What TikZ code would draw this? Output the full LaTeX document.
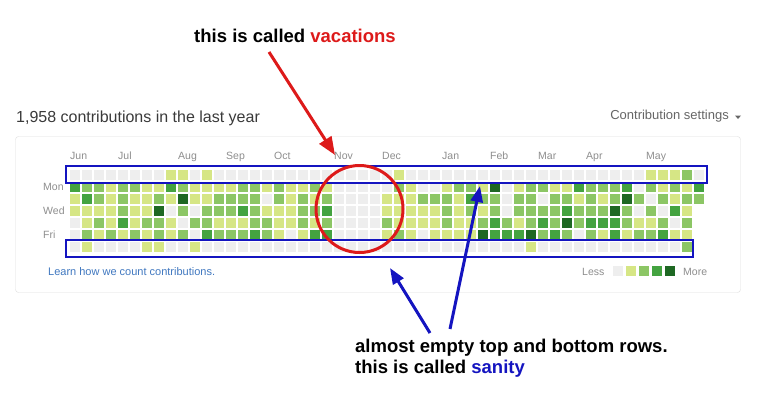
\documentclass[tikz,border=0pt]{standalone}
\usepackage{fontspec}
\setmainfont{Liberation Sans}
\usepackage{xcolor}
\usetikzlibrary{arrows.meta}

\definecolor{cell0}{HTML}{EEEEEE}
\definecolor{cell1}{HTML}{D6E685}
\definecolor{cell2}{HTML}{8CC665}
\definecolor{cell3}{HTML}{44A340}
\definecolor{cell4}{HTML}{1E6823}
\definecolor{textdark}{HTML}{3A3A3A}
\definecolor{labelgray}{HTML}{8E8E8E}
\definecolor{settingsgray}{HTML}{666666}
\definecolor{learnblue}{HTML}{4078C0}
\definecolor{framegray}{HTML}{DDDDDD}
\definecolor{annored}{HTML}{DD1A1A}
\definecolor{sanityblue}{HTML}{1414C0}

\begin{document}
\begin{tikzpicture}[
            x=1pt, y=-1pt,
            every node/.style={inner sep=0pt},
            smalllabel/.style={anchor=base west, font=\fontsize{10.5}{12}\selectfont, text=labelgray},
            annot/.style={font=\fontsize{18.5}{21.5}\selectfont\bfseries},
            redarrow/.style={draw=annored, line width=3pt, -{Triangle[length=18pt,width=14pt]}},
            bluearrow/.style={draw=sanityblue, line width=3pt, -{Triangle[length=16pt,width=12pt]}},
            markbox/.style={draw=sanityblue, line width=2pt}
        ]
        \fill[white] (0,0) rectangle (759,410);
        \useasboundingbox (0,0) rectangle (759,410);
        % Header
        \node[anchor=base west, font=\fontsize{16}{19}\selectfont, text=textdark] (title) at (16,122.5) {1,958 contributions in the last year};
        \node[anchor=base east, font=\fontsize{13}{15}\selectfont, text=settingsgray] (settings) at (729,119) {Contribution settings};
        \fill[settingsgray] (735,115.5) -- (741,115.5) -- (738,119) -- cycle;
        % Calendar frame
        \draw[framegray, rounded corners=3pt] (15.5,136.5) rectangle (740.5,292.5);
        % Months and days
        \foreach \m/\c in {Jun/0, Jul/4, Aug/9, Sep/13, Oct/17, Nov/22, Dec/26, Jan/31, Feb/35, Mar/39, Apr/43, May/48}
            \node[smalllabel] (month-\m) at ({70+12*\c},159.5) {\m};
        \foreach \d/\r in {Mon/1, Wed/3, Fri/5}
            \node[smalllabel] (day-\d) at (43,{178+12*\r}) {\d};
        % Contribution cells, one list per weekday
        \foreach \row [count=\j from 0] in {
            {0,0,0,0,0,0,0,0,1,1,0,1,0,0,0,0,0,0,0,0,0,0,0,0,0,0,0,1,0,0,0,0,0,0,0,0,0,0,0,0,0,0,0,0,0,0,0,0,1,1,1,2,0},
            {3,2,2,1,2,2,1,1,3,2,1,1,1,1,2,2,1,2,1,1,2,1,0,0,0,0,0,2,1,0,0,1,2,2,1,4,0,1,2,2,1,1,3,2,2,2,3,0,2,1,2,1,3},
            {1,3,2,1,2,1,1,2,1,4,1,1,2,2,2,2,0,2,1,2,1,2,0,0,0,0,1,1,1,2,2,2,1,3,2,2,0,2,2,0,2,2,1,2,1,2,4,2,0,2,1,2,2},
            {1,1,1,1,2,1,1,4,0,2,0,2,2,2,3,2,1,1,1,2,2,3,0,0,0,0,1,1,1,1,1,2,1,2,1,2,0,2,2,2,2,3,2,2,2,4,2,0,2,0,3,1},
            {0,1,2,1,3,1,2,2,1,0,2,2,1,1,1,2,2,1,1,2,1,2,0,0,0,0,2,1,1,1,1,2,1,1,2,3,2,1,2,3,2,4,2,3,3,3,2,1,1,2,0,2},
            {0,2,1,2,1,2,1,2,1,2,0,3,2,2,2,3,2,1,0,1,3,3,0,0,0,0,1,2,1,0,1,1,1,1,4,3,3,3,4,2,3,2,0,2,1,3,1,2,2,3,1,1},
            {0,1,0,0,0,0,1,1,0,0,1,0,0,0,0,0,0,0,0,0,0,0,0,0,0,0,0,0,0,0,0,0,0,0,0,0,0,0,1,0,0,0,0,0,0,0,0,0,0,0,0,2}}
            \foreach \v [count=\i from 0] in \row
                \fill[fill=cell\v] ({70+12*\i},{170+12*\j}) rectangle +(10,10);
        % Footer
        \node[anchor=base west, font=\fontsize{11}{13}\selectfont, text=learnblue] (learn) at (48,275) {Learn how we count contributions.};
        \node[smalllabel] (less) at (582,275) {Less};
        \foreach \k in {0,...,4}
            \fill[fill=cell\k] ({613+13*\k},266) rectangle +(10,10);
        \node[smalllabel] (more) at (683,275) {More};
        % Sanity boxes
        \draw[markbox] (66,166) rectangle (707,183);
        \draw[markbox] (66,240) rectangle (693,257);
        % Vacations
        \coordinate (vaccircle) at (359.5,209);
        \draw[annored, line width=3pt] (vaccircle) circle[radius=43.5pt];
        \node[annot, anchor=base] (vactext) at (295,42) {this is called \textcolor{annored}{vacations}};
        \coordinate (vacfrom) at (269,52);
        \coordinate (vacto) at (335,155);
        \draw[redarrow] (vacfrom) -- (vacto);
        % Sanity
        \node[annot, anchor=north west, align=left] (sanitytext) at (355,338.5) {almost empty top and bottom rows.\\this is called \textcolor{sanityblue}{sanity}};
        \coordinate (lowfrom) at (430,333);
        \coordinate (lowto) at (390,268);
        \coordinate (topfrom) at (450,329);
        \coordinate (topto) at (480,186);
        \draw[bluearrow] (lowfrom) -- (lowto);
        \draw[bluearrow] (topfrom) -- (topto);
    \end{tikzpicture}
\end{document}
